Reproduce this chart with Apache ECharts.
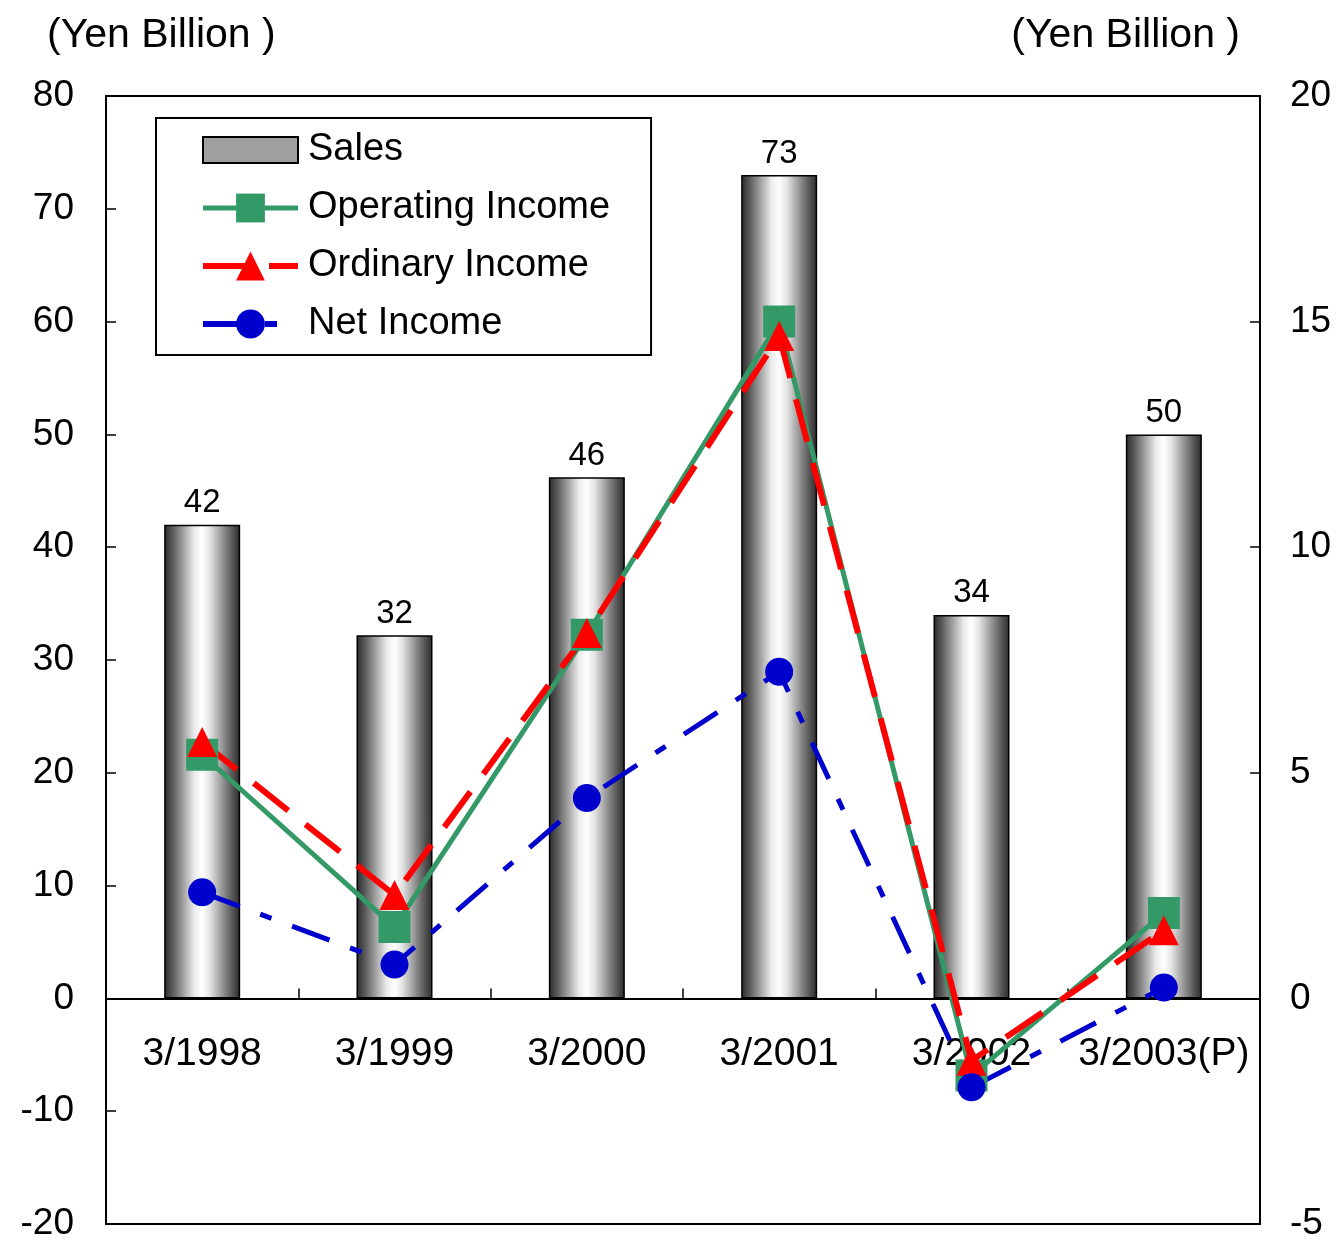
<!DOCTYPE html>
<html>
<head>
<meta charset="utf-8">
<script src="https://cdn.jsdelivr.net/npm/echarts@6/dist/echarts.min.js"></script>
<style>
html,body{margin:0;padding:0;background:#fff;}
#c{width:1337px;height:1242px;}
</style>
</head>
<body>
<div id="c"></div>
<script>
const categories = ['3/1998', '3/1999', '3/2000', '3/2001', '3/2002', '3/2003(P)'];
const sales = [42, 32.2, 46.2, 73, 34, 50];
const operatingIncome = [5.4, 1.58, 8.06, 15.0, -1.71, 1.89];
const ordinaryIncome = [5.68, 2.29, 8.1, 14.68, -1.38, 1.51];
const netIncome = [2.35, 0.75, 4.44, 7.24, -1.97, 0.24];
const leftTicks = {min: -20, max: 80, interval: 10};
const rightTicks = {min: -5, max: 20, interval: 5};

const FONT = "'Liberation Sans', Arial, sans-serif";
const W = 1337, H = 1242;
const GRID = {left: 106, right: 77, top: 96, bottom: 18};
const chart = echarts.init(document.getElementById('c'), null, {renderer: 'canvas'});

// place category axis on the zero line of the left axis
const plotH = H - GRID.top - GRID.bottom;
const zeroFrac = (0 - leftTicks.min) / (leftTicks.max - leftTicks.min);
const xAxisOffset = -zeroFrac * plotH;

const barGradient = new echarts.graphic.LinearGradient(0, 0, 1, 0, [
  {offset: 0, color: '#2a2a2a'},
  {offset: 0.1, color: '#555555'},
  {offset: 0.25, color: '#a0a0a0'},
  {offset: 0.4, color: '#ececec'},
  {offset: 0.5, color: '#ffffff'},
  {offset: 0.6, color: '#e4e4e4'},
  {offset: 0.75, color: '#9c9c9c'},
  {offset: 0.9, color: '#555555'},
  {offset: 1, color: '#2a2a2a'}
]);

const option = {
  animation: false,
  backgroundColor: '#fff',
  textStyle: {fontFamily: FONT, color: '#000'},
  title: [
    {text: '(Yen Billion )', left: 47, top: 15, padding: 0,
     textStyle: {fontFamily: FONT, fontSize: 41, fontWeight: 'normal', color: '#000'}},
    {text: '(Yen Billion )', right: 97, top: 15, padding: 0,
     textStyle: {fontFamily: FONT, fontSize: 41, fontWeight: 'normal', color: '#000'}}
  ],
  grid: {left: GRID.left, right: GRID.right, top: GRID.top, bottom: GRID.bottom,
         outerBoundsMode: 'none', containLabel: false,
         show: true, borderColor: '#000', borderWidth: 2, backgroundColor: 'transparent'},
  legend: {
    orient: 'vertical',
    left: 156, top: 118,
    padding: [13, 41, 12, 44],
    borderColor: '#000', borderWidth: 2,
    backgroundColor: '#fff',
    itemWidth: 95, itemHeight: 36, itemGap: 20,
    symbolKeepAspect: true,
    textStyle: {fontFamily: FONT, fontSize: 38, color: '#000', padding: [0, 0, 0, 5]},
    data: [
      {name: 'Sales', icon: 'path://M0,0L95,0L95,26L0,26Z',
       itemStyle: {color: '#a0a0a0', borderColor: '#000', borderWidth: 2}},
      {name: 'Operating Income', lineStyle: {width: 5, type: 'solid', color: '#339966'}},
      {name: 'Ordinary Income', lineStyle: {width: 6, type: [44, 22], color: '#ff0000'}},
      {name: 'Net Income', lineStyle: {width: 6, type: [40, 22, 12, 22], color: '#0000cc'}}
    ]
  },
  xAxis: {
    type: 'category',
    data: categories,
    position: 'bottom',
    offset: xAxisOffset,
    axisLine: {onZero: false, lineStyle: {color: '#000', width: 2}},
    axisTick: {show: true, inside: true, length: 10, alignWithLabel: false, lineStyle: {color: '#000', width: 1.5}},
    axisLabel: {fontFamily: FONT, fontSize: 39, color: '#000', margin: 36, interval: 0},
    splitLine: {show: false}
  },
  yAxis: [
    {
      type: 'value', min: leftTicks.min, max: leftTicks.max, interval: leftTicks.interval,
      axisLine: {show: true, lineStyle: {color: '#000', width: 2}},
      axisTick: {show: true, inside: true, length: 10, lineStyle: {color: '#000', width: 1.5}},
      axisLabel: {fontFamily: FONT, fontSize: 37, color: '#000', margin: 32, padding: [4, 0, 0, 0]},
      splitLine: {show: false}
    },
    {
      type: 'value', min: rightTicks.min, max: rightTicks.max, interval: rightTicks.interval,
      position: 'right',
      axisLine: {show: true, lineStyle: {color: '#000', width: 2}},
      axisTick: {show: true, inside: true, length: 10, lineStyle: {color: '#000', width: 1.5}},
      axisLabel: {fontFamily: FONT, fontSize: 37, color: '#000', margin: 30, padding: [4, 0, 0, 0]},
      splitLine: {show: false}
    }
  ],
  series: [
    {
      name: 'Sales', type: 'bar', yAxisIndex: 0, data: sales,
      barWidth: 76,
      itemStyle: {color: barGradient, borderColor: '#000', borderWidth: 1.5},
      label: {show: true, position: 'top', distance: 5, fontFamily: FONT, fontSize: 33, color: '#000',
              formatter: p => Math.round(p.value)}
    },
    {
      name: 'Operating Income', type: 'line', yAxisIndex: 1, data: operatingIncome,
      symbol: 'rect', symbolSize: 32,
      lineStyle: {color: '#339966', width: 5},
      itemStyle: {color: '#339966'}
    },
    {
      name: 'Ordinary Income', type: 'line', yAxisIndex: 1, data: ordinaryIncome,
      symbol: 'triangle', symbolSize: [30, 30],
      lineStyle: {color: '#ff0000', width: 6, type: [44, 22]},
      itemStyle: {color: '#ff0000'}
    },
    {
      name: 'Net Income', type: 'line', yAxisIndex: 1, data: netIncome,
      symbol: 'circle', symbolSize: 28,
      lineStyle: {color: '#0000cc', width: 5, type: [40, 22, 12, 22]},
      itemStyle: {color: '#0000cc'}
    }
  ]
};
chart.setOption(option);
</script>
</body>
</html>
